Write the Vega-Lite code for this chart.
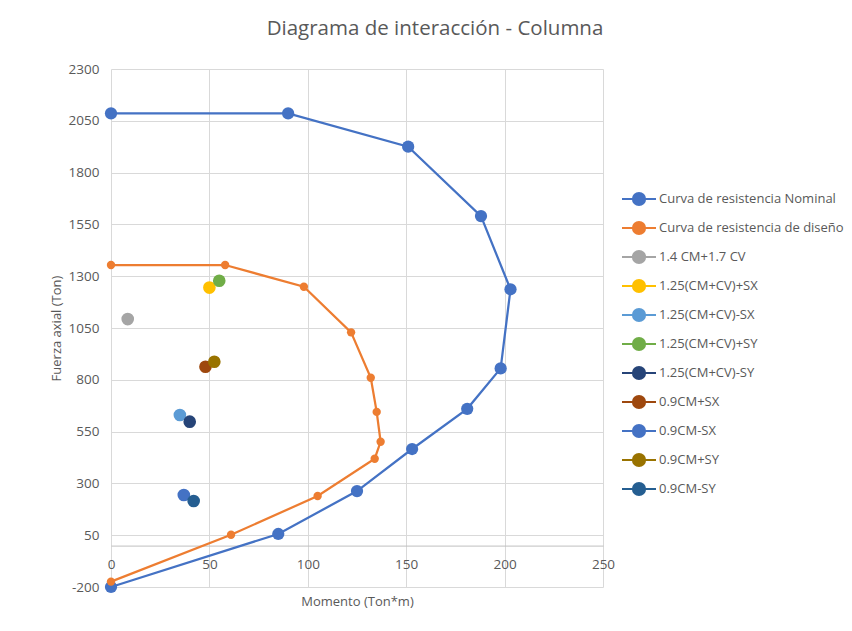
{
  "$schema": "https://vega.github.io/schema/vega-lite/v6.json",
  "width": 492,
  "height": 518,
  "autosize": {"type": "none"},
  "padding": {"left": 111, "top": 69, "right": 249, "bottom": 44},
  "background": "white",
  "title": {"text": "Diagrama de interacción - Columna", "fontSize": 20.5, "font": "Open Sans", "color": "#595959", "fontWeight": "normal", "anchor": "middle", "dx": 78, "offset": 23},
  "datasets": {
    "curves": [
      {"serie": "Curva de resistencia Nominal", "ord": 1, "m": 0, "p": 2086},
      {"serie": "Curva de resistencia Nominal", "ord": 2, "m": 90, "p": 2086},
      {"serie": "Curva de resistencia Nominal", "ord": 3, "m": 151, "p": 1925},
      {"serie": "Curva de resistencia Nominal", "ord": 4, "m": 188, "p": 1590},
      {"serie": "Curva de resistencia Nominal", "ord": 5, "m": 203, "p": 1237},
      {"serie": "Curva de resistencia Nominal", "ord": 6, "m": 198, "p": 855},
      {"serie": "Curva de resistencia Nominal", "ord": 7, "m": 181, "p": 660},
      {"serie": "Curva de resistencia Nominal", "ord": 8, "m": 153, "p": 466},
      {"serie": "Curva de resistencia Nominal", "ord": 9, "m": 125, "p": 263},
      {"serie": "Curva de resistencia Nominal", "ord": 10, "m": 85, "p": 56},
      {"serie": "Curva de resistencia Nominal", "ord": 11, "m": 0, "p": -200},
      {"serie": "Curva de resistencia de diseño", "ord": 1, "m": 0, "p": 1354},
      {"serie": "Curva de resistencia de diseño", "ord": 2, "m": 58, "p": 1354},
      {"serie": "Curva de resistencia de diseño", "ord": 3, "m": 98, "p": 1249},
      {"serie": "Curva de resistencia de diseño", "ord": 4, "m": 122, "p": 1029},
      {"serie": "Curva de resistencia de diseño", "ord": 5, "m": 132, "p": 810},
      {"serie": "Curva de resistencia de diseño", "ord": 6, "m": 135, "p": 645},
      {"serie": "Curva de resistencia de diseño", "ord": 7, "m": 137, "p": 501},
      {"serie": "Curva de resistencia de diseño", "ord": 8, "m": 134, "p": 419},
      {"serie": "Curva de resistencia de diseño", "ord": 9, "m": 105, "p": 239},
      {"serie": "Curva de resistencia de diseño", "ord": 10, "m": 61, "p": 52},
      {"serie": "Curva de resistencia de diseño", "ord": 11, "m": 0, "p": -174}
    ],
    "loads": [
      {"serie": "1.4 CM+1.7 CV", "m": 8.5, "p": 1093},
      {"serie": "1.25(CM+CV)+SX", "m": 50, "p": 1245},
      {"serie": "1.25(CM+CV)-SX", "m": 35, "p": 630},
      {"serie": "1.25(CM+CV)+SY", "m": 55, "p": 1278},
      {"serie": "1.25(CM+CV)-SY", "m": 40, "p": 598},
      {"serie": "0.9CM+SX", "m": 48, "p": 863},
      {"serie": "0.9CM-SX", "m": 37, "p": 244},
      {"serie": "0.9CM+SY", "m": 52.5, "p": 887},
      {"serie": "0.9CM-SY", "m": 42, "p": 215}
    ]
  },
  "encoding": {
    "x": {
      "field": "m", "type": "quantitative",
      "scale": {"domain": [0, 250], "nice": false, "zero": false},
      "axis": {"values": [0, 50, 100, 150, 200, 250], "title": "Momento (Ton*m)", "offset": -41.4, "domain": true, "domainColor": "#BFBFBF", "domainWidth": 1, "labelPadding": 12, "titlePadding": 24, "labelFlush": false, "labelExpr": "'' + datum.value"}
    },
    "y": {
      "field": "p", "type": "quantitative",
      "scale": {"domain": [-200, 2300], "nice": false, "zero": false},
      "axis": {"values": [-200, 50, 300, 550, 800, 1050, 1300, 1550, 1800, 2050, 2300], "title": "Fuerza axial (Ton)", "labelPadding": 12, "titlePadding": 5, "labelExpr": "'' + datum.value"}
    },
    "color": {
      "field": "serie", "type": "nominal",
      "scale": {
        "domain": ["Curva de resistencia Nominal", "Curva de resistencia de diseño", "1.4 CM+1.7 CV", "1.25(CM+CV)+SX", "1.25(CM+CV)-SX", "1.25(CM+CV)+SY", "1.25(CM+CV)-SY", "0.9CM+SX", "0.9CM-SX", "0.9CM+SY", "0.9CM-SY"],
        "range": ["#4472C4", "#ED7D31", "#A5A5A5", "#FFC000", "#5B9BD5", "#70AD47", "#264478", "#9E480E", "#4472C4", "#997300", "#255E91"]
      },
      "legend": {
        "title": null,
        "orient": "none",
        "legendX": 510,
        "legendY": 112,
        "symbolType": "M-1,0H1M-0.36,0A0.36,0.36,0,1,1,0.36,0A0.36,0.36,0,1,1,-0.36,0Z",
        "symbolSize": 1156,
        "symbolStrokeWidth": 2,
        "labelFontSize": 13,
        "labelFont": "Open Sans",
        "labelColor": "#595959",
        "labelOffset": 2,
        "rowPadding": -1.1,
        "labelLimit": 300,
        "encode": {
          "symbols": {
            "update": {
              "fill": {"signal": "scale('color', datum.value)"},
              "stroke": {"signal": "datum.value === '0.9CM-SX' ? '#636363' : scale('color', datum.value)"},
              "strokeWidth": {"value": 2},
              "opacity": {"value": 1}
            }
          }
        }
      }
    }
  },
  "layer": [
    {
      "data": {"name": "curves"},
      "mark": {"type": "line", "strokeWidth": 2.25},
      "encoding": {"order": {"field": "ord", "type": "quantitative"}}
    },
    {
      "data": {"name": "curves"},
      "transform": [{"filter": "datum.serie === 'Curva de resistencia Nominal'"}],
      "mark": {"type": "point", "filled": true, "opacity": 1, "size": 150}
    },
    {
      "data": {"name": "curves"},
      "transform": [{"filter": "datum.serie !== 'Curva de resistencia Nominal'"}],
      "mark": {"type": "point", "filled": true, "opacity": 1, "size": 70}
    },
    {
      "data": {"name": "loads"},
      "mark": {"type": "point", "filled": true, "opacity": 1, "size": 160}
    }
  ],
  "config": {
    "view": {"stroke": null},
    "font": "Open Sans",
    "axis": {
      "grid": true,
      "gridColor": "#D9D9D9",
      "gridWidth": 1,
      "ticks": false,
      "tickSize": 0,
      "domain": false,
      "labelColor": "#595959",
      "labelFont": "Open Sans",
      "labelFontSize": 13.5,
      "titleColor": "#595959",
      "titleFont": "Open Sans",
      "titleFontSize": 13,
      "titleFontWeight": "normal"
    }
  }
}
